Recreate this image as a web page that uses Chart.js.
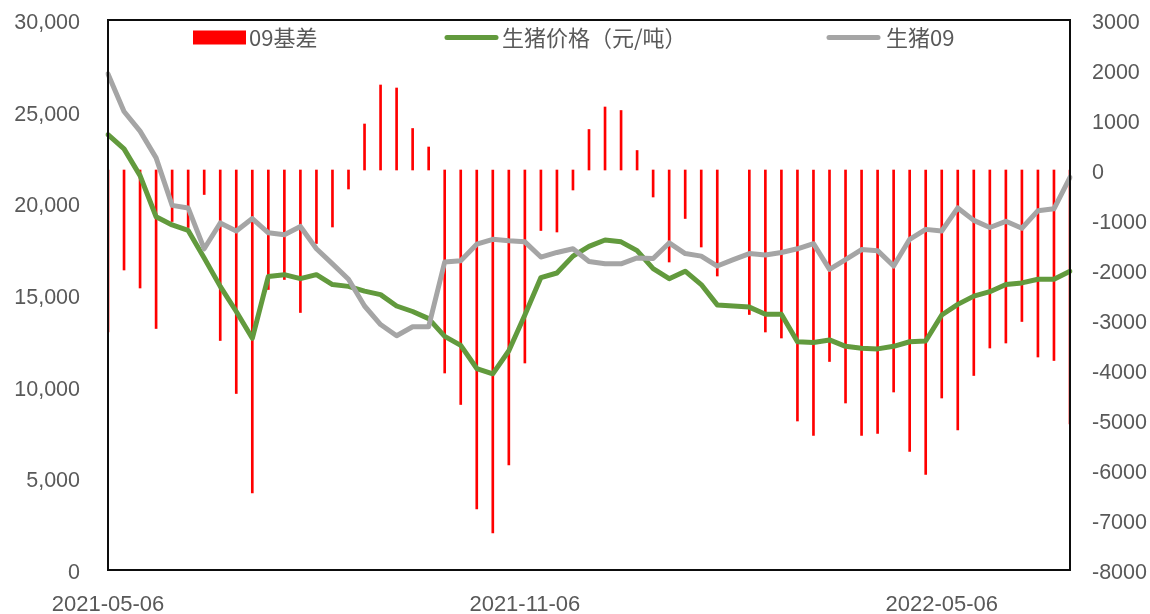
<!DOCTYPE html>
<html>
<head>
<meta charset="utf-8">
<script src="https://cdn.jsdelivr.net/npm/chart.js@4.4.1/dist/chart.umd.min.js"></script>
<style>
html,body{margin:0;padding:0;background:#ffffff;}
#wrap{width:1150px;height:614px;position:relative;}
</style>
</head>
<body>
<div id="wrap"><canvas id="c" width="1150" height="614"></canvas></div>
<script>
// ---- data ----
const dates = [
 '2021-05-06','2021-05-13','2021-05-20','2021-05-27','2021-06-03','2021-06-10','2021-06-17','2021-06-24',
 '2021-07-01','2021-07-08','2021-07-15','2021-07-22','2021-07-29','2021-08-05','2021-08-12','2021-08-19',
 '2021-08-26','2021-09-02','2021-09-09','2021-09-16','2021-09-23','2021-09-30','2021-10-07','2021-10-14',
 '2021-10-21','2021-10-28','2021-11-04','2021-11-11','2021-11-18','2021-11-25','2021-12-02','2021-12-09',
 '2021-12-16','2021-12-23','2021-12-30','2022-01-06','2022-01-13','2022-01-20','2022-01-27','2022-02-03',
 '2022-02-10','2022-02-17','2022-02-24','2022-03-03','2022-03-10','2022-03-17','2022-03-24','2022-03-31',
 '2022-04-07','2022-04-14','2022-04-21','2022-04-28','2022-05-05','2022-05-12','2022-05-19','2022-05-26',
 '2022-06-02','2022-06-09','2022-06-16','2022-06-23','2022-06-30'
];
const tickDates = ['2021-05-06','2021-11-06','2022-05-06'];
const tickIndex = [0, 26, 52];

const basis09 = [
 -3240,-2000,-2360,-3170,-1030,-1150,-490,-3410,-4470,-6460,
 -2390,-2190,-2850,-1470,-1140,-380,920,1700,1640,830,
 460,-4060,-4690,-6780,-7260,-5900,-3860,-1210,-1240,-400,
 810,1260,1190,390,-540,-1840,-970,-1540,-2120,null,
 -2890,-3240,-3360,-5020,-5310,-3830,-4660,-5310,-5270,-4440,
 -5630,-6090,-4560,-5200,-4110,-3560,-3460,-3030,-3740,-3810,
 -5080
];
const spotPrice = [
 23750,22970,21510,19270,18820,18520,17020,15470,14100,12640,
 16010,16110,15890,16110,15570,15470,15210,15020,14400,14100,
 13710,12740,12250,10990,10700,11960,13910,15950,16200,17120,
 17650,18000,17900,17420,16440,15890,16300,15570,14460,14400,
 14340,13950,13950,12450,12410,12550,12200,12100,12060,12200,
 12450,12490,13910,14490,14940,15180,15570,15660,15860,15860,
 16290
];
const futures09 = [
 27060,25010,23940,22480,19890,19750,17520,18930,18490,19170,
 18390,18290,18740,17520,16700,15860,14400,13390,12780,13270,
 13270,16800,16870,17770,18040,17960,17900,17070,17320,17520,
 16830,16700,16700,17020,16990,17840,17260,17120,16580,16930,
 17260,17180,17320,17520,17800,16400,16930,17480,17420,16580,
 18040,18580,18490,19750,19070,18680,19020,18640,19600,19700,
 21410
];
const seriesNames = ['09基差', '生猪价格（元/吨）', '生猪09'];

// ---- styling ----
const TXT = '#595959';
const RED = '#FF0000';
const GREEN = '#629A3D';
const GRAY = '#A5A5A5';

const zeroPad = s => { s.paddingTop = 0; s.paddingBottom = 0; s.paddingLeft = 0; s.paddingRight = 0; };

const framePlugin = {
  id: 'frame',
  afterDatasetsDraw(chart) {
    const {ctx, chartArea: a} = chart;
    ctx.save();
    ctx.strokeStyle = '#0d0d0d';
    ctx.lineWidth = 2;
    ctx.strokeRect(a.left, a.top, a.right - a.left, a.bottom - a.top);
    ctx.restore();
  }
};

const legendPlugin = {
  id: 'inlineLegend',
  afterDraw(chart) {
    const ctx = chart.ctx;
    const ds = chart.data.datasets;
    const items = [
      {sx: 193, tx: 249, kind: 'rect'},
      {sx: 445, tx: 502, kind: 'line'},
      {sx: 827, tx: 886, kind: 'line'}
    ];
    const cy = 37.5;
    ctx.save();
    ds.forEach((d, i) => {
      const it = items[i];
      if (it.kind === 'rect') {
        ctx.fillStyle = d.backgroundColor;
        ctx.fillRect(it.sx, cy - 7, 53, 14);
      } else {
        ctx.strokeStyle = d.borderColor;
        ctx.lineWidth = 5;
        ctx.lineCap = 'round';
        ctx.beginPath();
        ctx.moveTo(it.sx + 2, cy);
        ctx.lineTo(it.sx + 51, cy);
        ctx.stroke();
      }
      ctx.fillStyle = TXT;
      ctx.font = '22px "Noto Sans CJK SC", "Noto Sans", sans-serif';
      ctx.textBaseline = 'middle';
      ctx.textAlign = 'left';
      ctx.fillText(d.label, it.tx, cy);
    });
    ctx.restore();
  }
};

new Chart(document.getElementById('c'), {
  data: {
    labels: dates,
    datasets: [
      {
        type: 'bar', label: seriesNames[0], data: basis09, yAxisID: 'y1',
        backgroundColor: RED, borderWidth: 0, barThickness: 2, order: 3
      },
      {
        type: 'line', label: seriesNames[1], data: spotPrice, yAxisID: 'y',
        borderColor: GREEN, backgroundColor: GREEN, borderWidth: 5, pointRadius: 0,
        tension: 0, borderJoinStyle: 'round', borderCapStyle: 'round', order: 2
      },
      {
        type: 'line', label: seriesNames[2], data: futures09, yAxisID: 'y',
        borderColor: GRAY, backgroundColor: GRAY, borderWidth: 5, pointRadius: 0,
        tension: 0, borderJoinStyle: 'round', borderCapStyle: 'round', order: 1
      }
    ]
  },
  options: {
    responsive: false,
    devicePixelRatio: 1,
    animation: false,
    layout: {padding: {top: 20, left: 0, right: 0, bottom: 0}},
    plugins: {legend: {display: false}, tooltip: {enabled: false}},
    scales: {
      x: {
        type: 'category', offset: false,
        grid: {display: false, drawTicks: false}, border: {display: false},
        ticks: {
          autoSkip: false, maxRotation: 0, minRotation: 0, color: TXT, padding: 22,
          font: {family: '"Liberation Sans", sans-serif', size: 22},
          callback: (v, i) => { const k = tickIndex.indexOf(i); return k >= 0 ? tickDates[k] : ''; }
        },
        afterFit: s => { s.height = 44; zeroPad(s); }
      },
      y: {
        position: 'left', min: 0, max: 30000,
        grid: {display: false, drawTicks: false}, border: {display: false},
        ticks: {
          stepSize: 5000, color: TXT, padding: 28, labelOffset: 3,
          font: {family: '"Liberation Sans", sans-serif', size: 21.5},
          callback: v => Number(v).toLocaleString('en-US')
        },
        afterFit: s => { s.width = 108; zeroPad(s); }
      },
      y1: {
        position: 'right', min: -8000, max: 3000,
        grid: {display: false, drawTicks: false}, border: {display: false},
        ticks: {
          stepSize: 1000, color: TXT, padding: 22, labelOffset: 3,
          font: {family: '"Liberation Sans", sans-serif', size: 21.5},
          callback: v => String(v)
        },
        afterFit: s => { s.width = 80; zeroPad(s); }
      }
    }
  },
  plugins: [framePlugin, legendPlugin]
});
</script>
</body>
</html>
